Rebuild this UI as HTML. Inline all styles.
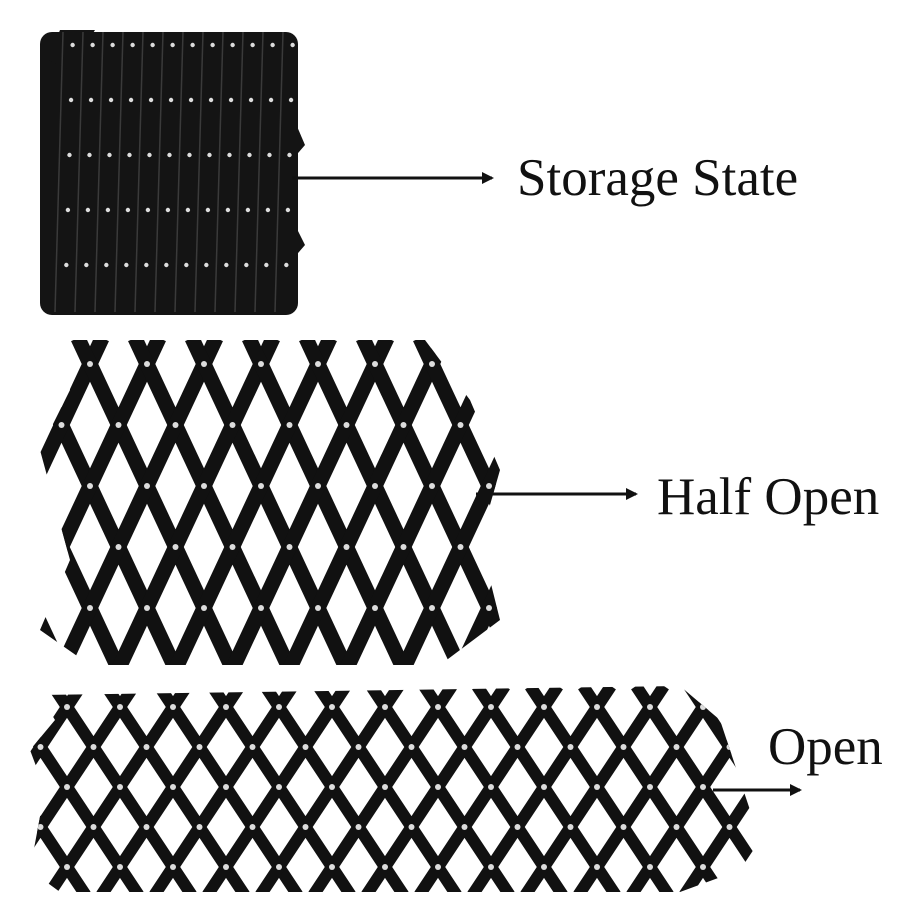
<!DOCTYPE html>
<html><head><meta charset="utf-8">
<style>
html,body{margin:0;padding:0;background:#fff;}
svg{display:block}
text{font-family:"Liberation Serif",serif;fill:#111;}
</style></head>
<body>
<svg id="s" width="900" height="900" viewBox="0 0 900 900" xmlns="http://www.w3.org/2000/svg">
<defs>
<marker id="ah" markerWidth="12" markerHeight="12" refX="10" refY="6" orient="auto" markerUnits="userSpaceOnUse">
<path d="M0,0 L12,6 L0,12 Z" fill="#111"/></marker>
<clipPath id="c2"><polygon points="55,340 425,340 470,400 500,470 480,540 500,620 440,665 90,665 40,630 70,560 40,450 70,390"/></clipPath>
<clipPath id="c3"><polygon points="40,695 680,686 720,720 760,840 740,870 680,892 60,892 30,870 45,790 30,750 55,720"/></clipPath>
</defs>
<g id="storage"></g>
<g id="half" clip-path="url(#c2)"></g>
<g id="open" clip-path="url(#c3)"></g>
<line x1="292" y1="178" x2="492" y2="178" stroke="#111" stroke-width="3" marker-end="url(#ah)"/>
<text x="517" y="195" font-size="53">Storage State</text>
<line x1="476" y1="494" x2="636" y2="494" stroke="#111" stroke-width="3" marker-end="url(#ah)"/>
<text x="657" y="514" font-size="53">Half Open</text>
<line x1="713" y1="790" x2="800" y2="790" stroke="#111" stroke-width="3" marker-end="url(#ah)"/>
<text x="768" y="764" font-size="53">Open</text>
</svg>
<script>
var NS="http://www.w3.org/2000/svg";
function el(p,t,a){var e=document.createElementNS(NS,t);for(var k in a)e.setAttribute(k,a[k]);p.appendChild(e);return e;}
var g=document.getElementById('storage');
el(g,'rect',{x:40,y:32,width:258,height:283,rx:12,fill:'#141414'});
el(g,'path',{d:'M48,60 L60,30 L95,30 L70,70Z',fill:'#141414'});
el(g,'path',{d:'M290,110 L305,145 L292,160Z',fill:'#141414'});
el(g,'path',{d:'M290,215 L305,245 L292,260Z',fill:'#141414'});
for(var i=0;i<12;i++){var x=55+i*20;
 el(g,'line',{x1:x+8,y1:32,x2:x,y2:312,stroke:'#3a3a3a','stroke-width':1.5});
 [45,100,155,210,265].forEach(function(y){el(g,'circle',{cx:x+8-(y-32)*8/280+10,cy:y,r:2.2,fill:'#ddd'});});
}
function lattice(id,ax,ay,sp,rs,y0,y1,w,xmin,xmax){
 var g=document.getElementById(id);var k=(sp/2)/rs;
 for(var c=-30;c<30;c++){
  var bx=ax+c*sp;
  // "/" line through (bx,ay): x = bx - (y-ay)*k
  el(g,'line',{x1:bx-(y1-ay)*k,y1:y1,x2:bx-(y0-ay)*k,y2:y0,stroke:'#111','stroke-width':w});
  el(g,'line',{x1:bx+(y0-ay)*k,y1:y0,x2:bx+(y1-ay)*k,y2:y1,stroke:'#111','stroke-width':w});
 }
 for(var j=0;j<10;j++){var y=ay+j*rs;if(y>y1-8)break;
  for(var c=-10;c<30;c++){var x=ax+c*sp+(j%2)*sp/2;if(x<xmin||x>xmax)continue;
   el(g,'circle',{cx:x,cy:y,r:3,fill:'#ddd'});}}
}
lattice('half',147,364,57,61,338,668,15,40,500);
lattice('open',120,707,53,40,686,895,12,30,760);
</script>
</body></html>
